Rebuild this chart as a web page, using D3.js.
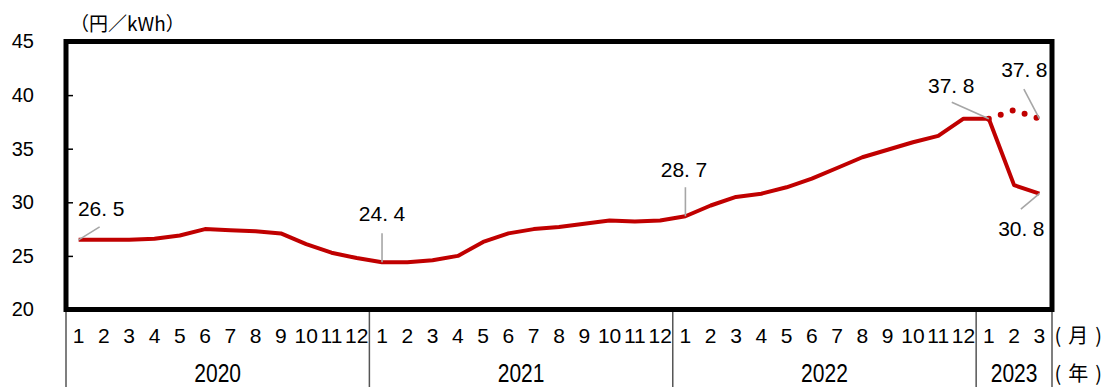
<!DOCTYPE html>
<html>
<head>
<meta charset="utf-8">
<script src="https://cdn.jsdelivr.net/npm/d3@7"></script>
<style>
  body { margin: 0; background: #fff; }
  svg { display: block; }
</style>
</head>
<body>
<script>
// Monthly electricity unit price (円/kWh), Jan 2020 – Mar 2023
const years = ["2020", "2021", "2022", "2023"];
const monthsInYear = [12, 12, 12, 3];
const monthLabels = [
  "1","2","3","4","5","6","7","8","9","10","11","12",
  "1","2","3","4","5","6","7","8","9","10","11","12",
  "1","2","3","4","5","6","7","8","9","10","11","12",
  "1","2","3"
];
const actualPrice = [
  26.5, 26.5, 26.5, 26.6, 26.9, 27.5, 27.4, 27.3, 27.1, 26.1, 25.3, 24.8,
  24.4, 24.4, 24.6, 25.0, 26.3, 27.1, 27.5, 27.7, 28.0, 28.3, 28.2, 28.3,
  28.7, 29.7, 30.5, 30.8, 31.4, 32.2, 33.2, 34.2, 34.9, 35.6, 36.2, 37.8,
  37.8, 31.6, 30.8
];
// Price without the 2023 subsidy, Jan–Mar 2023
const outlookPrice = [37.8, 38.6, 37.8];
const outlookStart = 36;
const yTicks = [20, 25, 30, 35, 40, 45];
const innerTicks = [25, 30, 35, 40];
const unitLabel = "（円／kWh）";
// axis units on the right: [open, unit, close]
const monthUnit = ["(", "月", ")"];
const yearUnit = ["(", "年", ")"];
// Points that carry a value callout
const callouts = [
  { series: "actual", index: 0 },
  { series: "actual", index: 12 },
  { series: "actual", index: 24 },
  { series: "actual", index: 36 },
  { series: "outlook", index: 38 },
  { series: "actual", index: 38 }
];

const W = 1105, H = 387;
const plot = { left: 66, right: 1052, top: 41.5, bottom: 309.5 };

const svg = d3.select("body").append("svg")
  .attr("width", W).attr("height", H)
  .attr("viewBox", `0 0 ${W} ${H}`);

const x = d3.scaleBand()
  .domain(d3.range(monthLabels.length))
  .range([plot.left, plot.right])
  .paddingInner(0).paddingOuter(0);
const cx = i => x(i) + x.bandwidth() / 2;

const y = d3.scaleLinear().domain([20, 45]).range([plot.bottom, plot.top]);

const numFont = "'Liberation Sans', Arial, sans-serif";
const jpFont = "'Noto Sans CJK JP', sans-serif";

// y tick labels
const yAxis = svg.append("g")
  .attr("transform", "translate(34,0)")
  .call(d3.axisLeft(y).tickValues(yTicks).tickSize(0).tickPadding(0));
yAxis.select(".domain").remove();
yAxis.selectAll("text")
  .attr("font-family", numFont).attr("font-size", 20).attr("fill", "#000");

// small inner ticks on the left edge
const tickAxis = svg.append("g")
  .attr("transform", `translate(${plot.left},0)`)
  .call(d3.axisRight(y).tickValues(innerTicks).tickSize(7).tickFormat(""));
tickAxis.select(".domain").remove();
tickAxis.selectAll("line").attr("stroke", "#000").attr("stroke-width", 1.5);

// unit
svg.append("text")
  .attr("x", 70).attr("y", 31)
  .attr("font-family", jpFont).attr("font-size", 19).attr("fill", "#000")
  .text(unitLabel);

// category separators below the plot (year groups)
const yearStarts = [0];
monthsInYear.forEach((n, k) => yearStarts.push(yearStarts[k] + n));
const sepX = yearStarts.map(i => i < monthLabels.length ? x(i) : plot.right);
svg.append("g").selectAll("line").data(sepX).join("line")
  .attr("x1", d => d).attr("x2", d => d)
  .attr("y1", plot.bottom).attr("y2", H)
  .attr("stroke", "#555").attr("stroke-width", 1.5);

// month labels
const xAxis = svg.append("g")
  .attr("transform", "translate(0,328)")
  .call(d3.axisBottom(x).tickSize(0).tickPadding(0).tickFormat(i => monthLabels[i]));
xAxis.select(".domain").remove();
xAxis.selectAll("text")
  .attr("font-family", numFont).attr("font-size", 21).attr("fill", "#000");

// year labels
svg.append("g").selectAll("text").data(years).join("text")
  .attr("transform", (d, k) => {
    const mid = (sepX[k] + sepX[k + 1]) / 2;
    return `translate(${mid},382) scale(1,1.25)`;
  })
  .attr("text-anchor", "middle")
  .attr("font-family", numFont).attr("font-size", 21).attr("fill", "#000")
  .text(d => d);

// axis unit labels on the right
function unitText(parts, yPos) {
  const t = svg.append("text").attr("x", 1054.5).attr("y", yPos)
    .attr("font-family", jpFont).attr("font-size", 20).attr("fill", "#000");
  t.append("tspan").text(parts[0]);
  t.append("tspan").attr("dx", 7).text(parts[1]);
  t.append("tspan").attr("dx", 7).text(parts[2]);
}
unitText(monthUnit, 343);
unitText(yearUnit, 381);

// series
const actualPts = actualPrice.map((v, i) => [i, v]);
const outlookPts = outlookPrice.map((v, k) => [outlookStart + k, v]);
const line = d3.line().x(d => cx(d[0])).y(d => y(d[1])).curve(d3.curveLinear);

svg.append("path")
  .attr("d", line(outlookPts))
  .attr("fill", "none").attr("stroke", "#c00000")
  .attr("stroke-width", 6).attr("stroke-linecap", "round")
  .attr("stroke-dasharray", "0 12.6");

svg.append("path")
  .attr("d", line(actualPts))
  .attr("fill", "none").attr("stroke", "#c00000")
  .attr("stroke-width", 4).attr("stroke-linejoin", "round");

// callouts: leader line + value text
const calloutLayout = {
  "actual-0":   { tx: 22.5, ty: -24, anchor: "middle", lx: 21, ly: -13 },
  "actual-12":  { tx: 0, ty: -41, anchor: "middle", lx: 0, ly: -29 },
  "actual-24":  { tx: -1.5, ty: -39, anchor: "middle", lx: 0, ly: -29 },
  "actual-36":  { tx: -37.6, ty: -25.5, anchor: "middle", lx: -37, ly: -16.5 },
  "outlook-38": { tx: -15, ty: -41.5, anchor: "middle", lx: -15.5, ly: -29.5 },
  "actual-38":  { tx: -18, ty: 42.5, anchor: "middle", lx: -18.5, ly: 15.5 }
};
const fmt = d3.format(".1f");
const cg = svg.append("g");
callouts.forEach(c => {
  const v = c.series === "actual" ? actualPrice[c.index] : outlookPrice[c.index - outlookStart];
  const px = cx(c.index), py = y(v);
  const L = calloutLayout[`${c.series}-${c.index}`];
  cg.append("line")
    .attr("x1", px).attr("y1", py)
    .attr("x2", px + L.lx).attr("y2", py + L.ly)
    .attr("stroke", "#a6a6a6").attr("stroke-width", 1.6);
  const [ip, dp] = fmt(v).split(".");
  const t = cg.append("text")
    .attr("x", px + L.tx).attr("y", py + L.ty)
    .attr("text-anchor", L.anchor)
    .attr("font-family", numFont).attr("font-size", 21).attr("fill", "#000");
  t.append("tspan").text(ip + ".");
  t.append("tspan").attr("dx", 5.5).text(dp);
});

// plot frame
svg.append("rect")
  .attr("x", plot.left).attr("y", plot.top)
  .attr("width", plot.right - plot.left).attr("height", plot.bottom - plot.top)
  .attr("fill", "none").attr("stroke", "#000").attr("stroke-width", 5);
</script>
</body>
</html>
